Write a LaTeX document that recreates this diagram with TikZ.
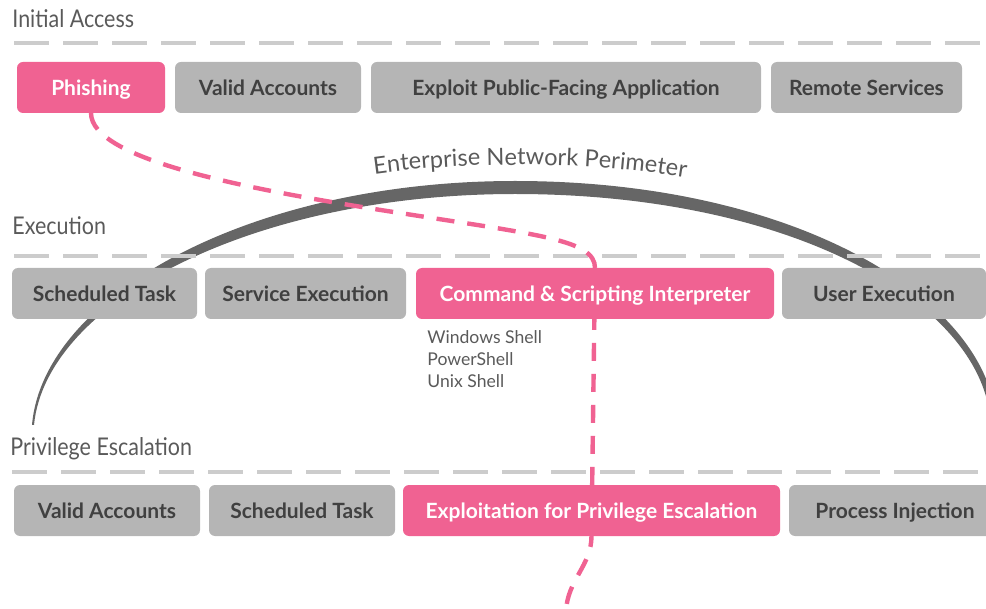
\documentclass[tikz,border=0pt]{standalone}
\usepackage{fontspec}
\setmainfont{Lato}
\newfontfamily\headfont[FakeStretch=0.88]{Lato}
\usetikzlibrary{positioning,backgrounds,decorations.text}
\definecolor{techpink}{HTML}{F06292}
\definecolor{techgray}{HTML}{B5B5B5}
\definecolor{techtext}{HTML}{404040}
\definecolor{headgray}{HTML}{5A5A5A}
\definecolor{arcgray}{HTML}{666666}
\definecolor{sepgray}{HTML}{CCCCCC}

\begin{document}
\begin{tikzpicture}[
  x=0.5pt, y=-0.5pt,
  tech/.style={
    rounded corners=3pt,
    fill=techgray,
    text=techtext,
    inner sep=0pt,
    outer sep=0pt,
    minimum height=25.5pt,
    text height=7.6pt,
    text depth=0pt,
    font=\bfseries\fontsize{10.5}{12}\selectfont
  },
  hit/.style={tech, fill=techpink, text=white},
  tactic/.style={
    anchor=base west,
    inner sep=0pt,
    text=headgray,
    font=\headfont\fontsize{12.2}{14}\selectfont
  },
  sep/.style={draw=sepgray, line width=2.25pt, dash pattern=on 17.5pt off 7pt},
  attack/.style={draw=techpink, line width=2.2pt, dash pattern=on 9pt off 6.5pt}
]
\useasboundingbox (0,0) rectangle (986,609);

\node[tactic] (h1) at (12,28) {Initial Access};
\node[tactic] (h2) at (12,235) {Execution};
\node[tactic] (h3) at (10,456) {Privilege Escalation};

\node[hit, minimum width=74pt, anchor=north west] (a1) at (17,62) {Phishing};
\node[tech, minimum width=93pt, right=5pt of a1] (a2) {Valid Accounts};
\node[tech, minimum width=195pt, right=5pt of a2] (a3) {Exploit Public-Facing Application};
\node[tech, minimum width=95.5pt, right=5pt of a3] (a4) {Remote Services};

\node[tech, minimum width=92.5pt, anchor=north west] (b1) at (12,268) {Scheduled Task};
\node[tech, minimum width=100.5pt, right=4pt of b1] (b2) {Service Execution};
\node[hit, minimum width=179pt, right=5pt of b2] (b3) {Command \& Scripting Interpreter};
\node[tech, minimum width=102pt, right=4pt of b3] (b4) {User Execution};

\node[tech, minimum width=93pt, anchor=north west] (c1) at (14,485) {Valid Accounts};
\node[tech, minimum width=93pt, right=4.5pt of c1] (c2) {Scheduled Task};
\node[hit, minimum width=188.5pt, right=4pt of c2] (c3) {Exploitation for Privilege Escalation};
\node[tech, minimum width=106pt, right=4.5pt of c3] (c4) {Process Injection};

\node[anchor=north west, align=left, inner sep=0pt, text=headgray,
  font=\fontsize{8.8}{11}\selectfont] (shells) at (427,330)
  {Windows Shell\\PowerShell\\Unix Shell};

\coordinate (bend) at (400,213);
\coordinate (tail) at (566,612);

\begin{scope}[on background layer]
\fill[arcgray] (32,425) .. controls (43,297) and (248,181) .. (515,181)
  .. controls (782,181) and (966,287) .. (993,400) -- (987,400)
  .. controls (959,291) and (778,194) .. (515,194)
  .. controls (252,194) and (46,302) .. (34,425) -- cycle;
\path[decorate, decoration={text along path, text align=center,
  text color=headgray,
  text={|\fontsize{11.8}{14}\selectfont|Enterprise Network Perimeter}}]
  (350,178) .. controls (450,160) and (600,160) .. (710,182);

\draw[sep] (14,43) -- (986,43);
\draw[sep] (14,256) -- (986,256);
\draw[sep] (12,472) -- (986,472);

\draw[attack] (a1.south) .. controls +(0,47) and (250,190) .. (bend)
  .. controls (540,235) and (b3.north |- 0,240) .. (b3.north)
  -- (c3.south) .. controls +(0,30) and (567,580) .. (tail);
\end{scope}
\end{tikzpicture}
\end{document}
